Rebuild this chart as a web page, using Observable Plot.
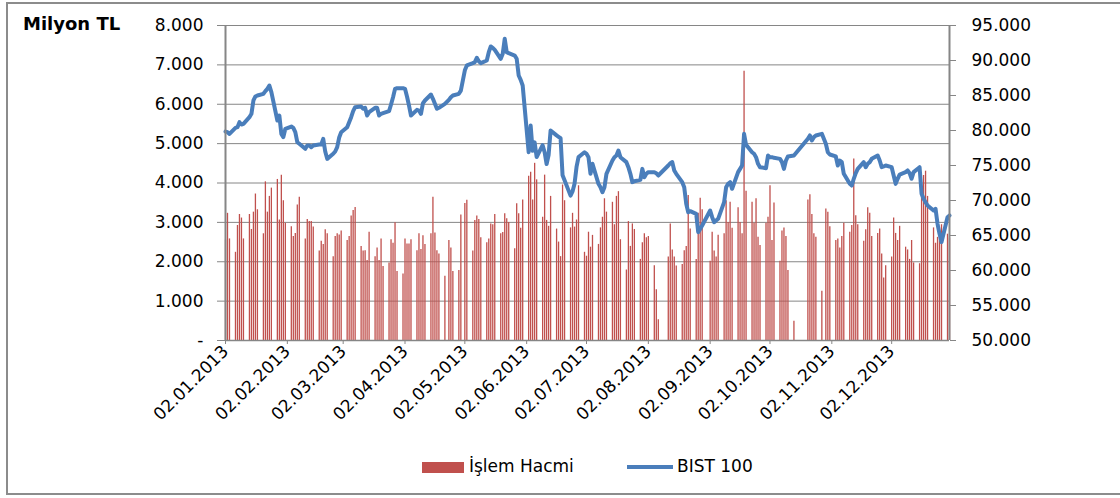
<!DOCTYPE html>
<html>
<head>
<meta charset="utf-8">
<script src="https://cdn.jsdelivr.net/npm/d3@7"></script>
<script src="https://cdn.jsdelivr.net/npm/@observablehq/plot@0.6"></script>
<style>
  body { margin: 0; background: #fff; font-family: "DejaVu Sans", Verdana, sans-serif; }
  #wrap { position: relative; width: 1120px; height: 498px; overflow: hidden; background: #fff; }
  #frame { position: absolute; left: 6px; top: 2px; width: 1130px; height: 493px; border: 2px solid #8c8c8c; box-sizing: border-box; }
  #chart { position: absolute; left: 0; top: 0; }
  .lbl { position: absolute; color: #000; white-space: nowrap; }
  #unit { left: 23px; top: 13px; font-size: 18px; font-weight: bold; }
  #legBar { position: absolute; left: 422px; top: 462px; width: 42px; height: 11px; background: #C0504D; }
  #legBarTxt { left: 469px; top: 456px; font-size: 17px; }
  #legLine { position: absolute; left: 627px; top: 465px; width: 46px; height: 4px; background: #4A7EBB; }
  #legLineTxt { left: 677px; top: 456px; font-size: 17px; }
</style>
</head>
<body>
<div id="wrap">
  <div id="frame"></div>
  <div id="chart"></div>
  <div class="lbl" id="unit">Milyon TL</div>
  <div id="legBar"></div><div class="lbl" id="legBarTxt">İşlem Hacmi</div>
  <div id="legLine"></div><div class="lbl" id="legLineTxt">BIST 100</div>
</div>
<script>
// Trading days of 2013, one list per month (Jan..Dec)
const tradingDays = [
  [2,3,4,7,8,9,10,11,14,15,16,17,18,21,22,23,24,25,28,29,30,31],
  [1,4,5,6,7,8,11,12,13,14,15,18,19,20,21,22,25,26,27,28],
  [1,4,5,6,7,8,11,12,13,14,15,18,19,20,21,22,25,26,27,28,29],
  [1,2,3,4,5,8,9,10,11,12,15,16,17,18,19,22,24,25,26,29,30],
  [2,3,6,7,8,9,10,13,14,15,16,17,20,21,22,23,24,27,28,29,30,31],
  [3,4,5,6,7,10,11,12,13,14,17,18,19,20,21,24,25,26,27,28],
  [1,2,3,4,5,8,9,10,11,12,15,16,17,18,19,22,23,24,25,26,29,30,31],
  [1,2,5,6,7,12,13,14,15,16,19,20,21,22,23,26,27,28,29],
  [2,3,4,5,6,9,10,11,12,13,16,17,18,19,20,23,24,25,26,27,30],
  [1,2,3,4,7,8,9,10,11,14,21,22,23,24,25,28,30,31],
  [1,4,5,6,7,8,11,12,13,14,15,18,19,20,21,22,25,26,27,28,29],
  [2,3,4,5,6,9,10,11,12,13,16,17,18,19,20,23,24,25,26,27,30,31]
];

// İşlem Hacmi (Milyon TL), per month
const volume = [
  [2550,3230,2580,2240,2920,3200,3110,2580,3200,2820,3260,3720,3320,2710,4030,3260,3660,3870,4090,3060,4200,3550],
  [2980,2890,2640,2720,3440,3640,2580,3070,3020,3020,2880,2270,2520,2440,2810,2710,2130,2640,2710,2680],
  [2780,2540,2640,3160,3300,3380,2390,2270,2280,2030,2750,2130,2350,2030,2580,1880,1970,2560,2470,2990,1750],
  [1690,2580,2450,2450,2560,2280,2710,2310,2660,2440,2710,3640,2730,2280,2200,1630,2540,2350,1750,1780,3190],
  [3480,3560,2270,3050,3160,3070,2610,2480,2580,2960,2940,3200,2710,2740,3220,3090,3000,2330,3470,3220,2850,3570],
  [4170,4270,3570,4500,4080,3130,4200,3050,2900,3660,2830,2500,2130,3950,3550,2860,3230,2880,3060,3930],
  [2240,2140,2750,2370,2670,2440,2860,3130,3600,3260,3510,2940,3660,3780,2560,1790,3020,2390,2960,2820,2060,2480,2710],
  [2610,2640,1900,1290,530,2120,2960,2300,2120,1890,1930,2280,2390,3680,2830,2060,3230,3610,3320],
  [2010,2750,2270,2120,2670,2710,3550,3000,3510,2850,3370,3000,2710,6840,3790,3510,2980,3600,2620,2410,2980],
  [3130,3930,2540,3490,2010,2780,2860,2640,1780,490,3570,3700,3200,2710,2620,1250,3340,3260],
  [2890,2540,2580,2350,2640,2980,2750,2920,4610,3170,2940,2520,2810,3370,3230,2640,2720,2830,2200,1590,1900],
  [2120,3110,2720,2540,2900,2370,2300,2060,2540,1970,1950,3720,4190,4300,3660,2860,2470,2620,2580,2940,2700,2600]
];

// BIST 100 closing values, per month
const bist100 = [
  [79850,79760,79520,80380,80470,81190,80850,80950,81900,82380,84290,84860,85000,85240,85620,85950,86430,85480,81430,82140,79520,79050],
  [80240,80570,80380,79760,78330,78100,77380,77860,77860,77620,77860,78000,78000,78810,77000,75950,76670,77000,77620,79000],
  [79760,80470,81190,81900,82760,83330,83430,83100,83240,82140,82620,83240,83240,82140,82380,82480,82760,83710,84760,85950,86050],
  [86050,85950,84860,83570,82140,82950,82850,82380,83900,84290,85140,84520,83810,83100,83240,83810,84380,84760,85000,85240,85700],
  [88600,89300,89620,89760,90380,89900,89620,90000,91190,92000,91810,91520,90240,90950,93100,91190,91050,90710,90240,87860,87240,86430],
  [76900,80700,77100,78300,76200,77900,76900,75200,76500,80000,79300,79100,78900,73600,72900,70700,71300,72400,74800,76200],
  [76900,76670,76190,73810,75240,72380,71900,71190,71900,73810,75710,76190,76430,77140,76190,75480,74760,73810,72620,72760,72950,74520,73330],
  [73810,74050,74050,73900,73570,75000,75330,75480,74290,73810,72620,71900,69530,68330,68480,68100,65480,65950,66430],
  [68570,67620,66900,67140,67380,69760,71900,72380,72620,71670,74050,74520,75000,79520,77950,76900,76670,76190,75240,74760,74620],
  [76430,76190,76190,76100,75950,75480,74520,75710,76290,76430,78810,79290,78570,79050,79290,79520,78100,76900],
  [76570,76290,75000,75710,75480,73810,72380,72140,73100,73900,74520,75480,74760,75240,75480,75950,76430,75710,74760,74860,75000],
  [74760,73570,72380,73100,73710,74050,74290,73900,73100,74050,74760,70950,70240,69760,69290,68570,68810,66670,65240,64050,67620,67860]
];

// Axis ticks
const leftTicks = [0,1000,2000,3000,4000,5000,6000,7000,8000];
const rightTicks = [50000,55000,60000,65000,70000,75000,80000,85000,90000,95000];
const xTickDays = ["2013-01-02","2013-02-02","2013-03-02","2013-04-02","2013-05-02","2013-06-02",
                   "2013-07-02","2013-08-02","2013-09-02","2013-10-02","2013-11-02","2013-12-02"];

const rows = [];
tradingDays.forEach((days, m) => days.forEach((d, i) => {
  rows.push({ date: new Date(Date.UTC(2013, m, d)), vol: volume[m][i], bist: bist100[m][i] });
}));

const rMin = 50000, rMax = 95000, lMax = 8000;
const toLeft = b => (b - rMin) * lMax / (rMax - rMin);
const fromLeft = v => rMin + v * (rMax - rMin) / lMax;
const fmt = d3.formatLocale({ decimal: ",", thousands: ".", grouping: [3], currency: ["", ""] }).format(",.0f");
const gray = "#868686";
const x0 = new Date(Date.UTC(2013, 0, 2)), x1 = new Date(Date.UTC(2013, 11, 31));
const xTicks = xTickDays.map(s => new Date(s + "T00:00:00Z"));

const chart = Plot.plot({
  width: 1120,
  height: 498,
  marginLeft: 225,
  marginRight: 171,
  marginTop: 25,
  marginBottom: 158,
  style: { fontFamily: "DejaVu Sans, Verdana, sans-serif", fontSize: "17px", color: "#000", background: "transparent", overflow: "visible" },
  x: { type: "utc", domain: [x0, x1], label: null },
  y: { domain: [0, lMax], label: null },
  marks: [
    Plot.gridY(leftTicks, { stroke: gray, strokeOpacity: 1, strokeWidth: 1 }),
    Plot.ruleX(rows, { x: "date", y1: 0, y2: "vol", stroke: "#C0504D", strokeWidth: 1.3 }),
    Plot.line(rows, { x: "date", y: d => toLeft(d.bist), stroke: "#4A7EBB", strokeWidth: 4, strokeLinejoin: "round", strokeLinecap: "round" }),
    Plot.ruleX([x0], { stroke: gray, strokeWidth: 2 }),
    Plot.ruleX([x1], { stroke: gray, strokeWidth: 2 }),
    Plot.ruleY([0], { stroke: gray, strokeWidth: 1.5 }),
    Plot.axisY(leftTicks, { anchor: "left", label: null, tickSize: 8, tickPadding: 14, stroke: gray, fill: "#000",
      tickFormat: v => v === 0 ? "-" : fmt(v) }),
    Plot.axisY(rightTicks.map(toLeft), { anchor: "right", label: null, tickSize: 6, tickPadding: 16, stroke: gray, fill: "#000",
      tickFormat: v => fmt(fromLeft(v)) }),
    Plot.axisX(xTicks, { anchor: "bottom", label: null, tickSize: 4, tickPadding: 4, tickRotate: -45, stroke: gray, fill: "#000",
      fontSize: 17, tickFormat: d3.utcFormat("%d.%m.%Y") })
  ]
});
document.getElementById("chart").appendChild(chart);
</script>
</body>
</html>
